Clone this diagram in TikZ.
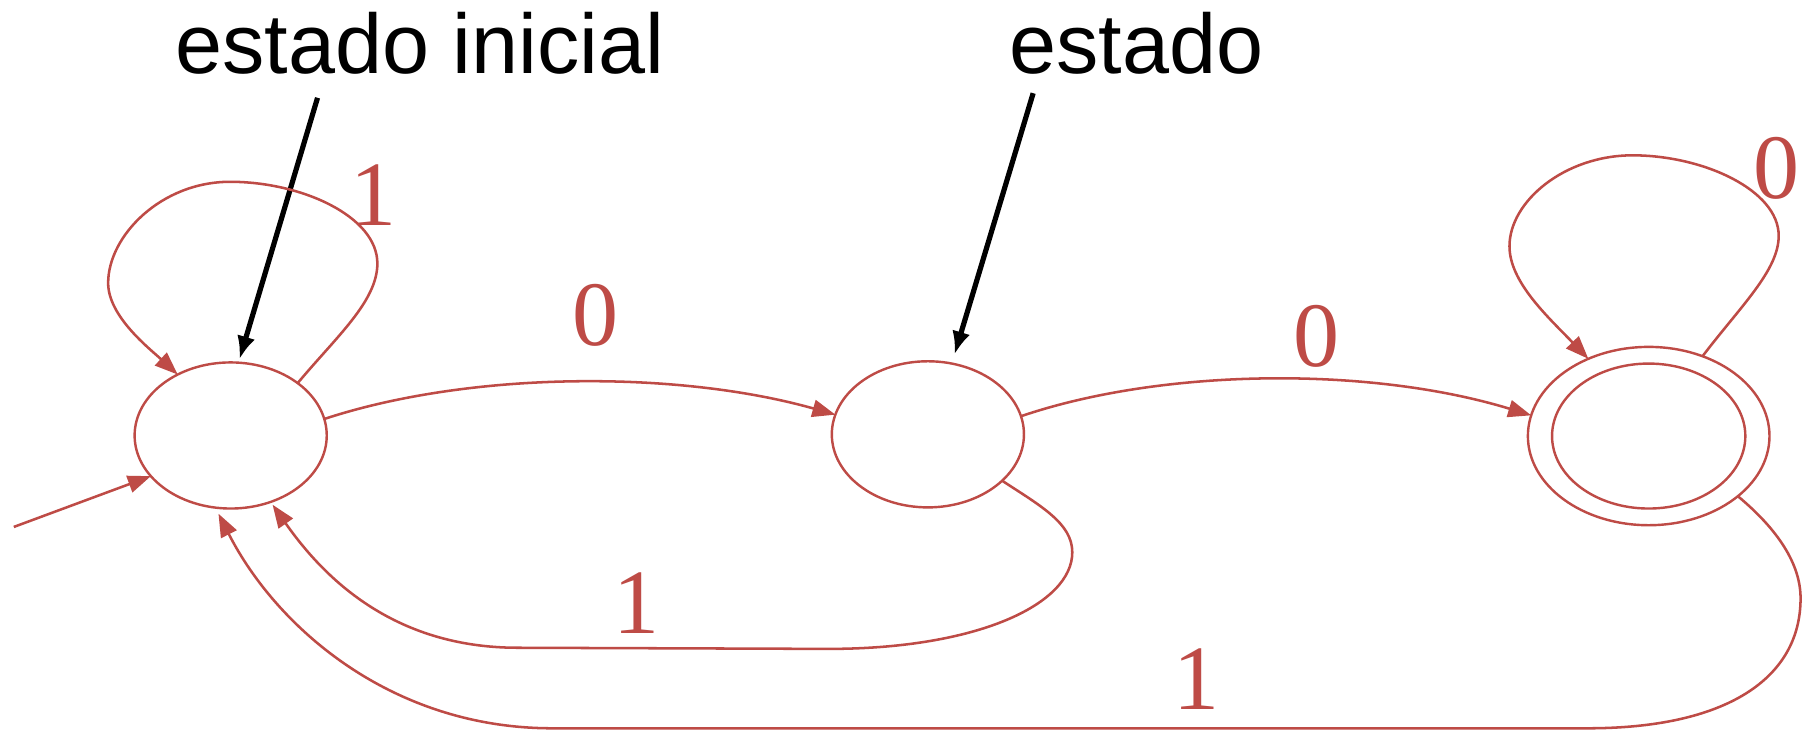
\documentclass[tikz,border=0pt]{standalone}
\usepackage{fontspec}
\setmainfont{Liberation Serif}
\newfontfamily\annfont{Liberation Sans}
\usetikzlibrary{arrows.meta,shapes.geometric}
\definecolor{fsm}{RGB}{190,75,70}
\begin{document}
\begin{tikzpicture}[x=1pt,y=-1pt,
  stnode/.style={draw=fsm, line width=2.1pt, ellipse, inner sep=0pt, outer sep=0pt, minimum width=167pt, minimum height=127pt},
  edge/.style={draw=fsm, line width=2.2pt, -{Triangle[length=20pt,width=15pt]}},
  lbl/.style={text=fsm, font=\fontsize{80}{80}\selectfont, inner sep=0pt},
  ann/.style={font=\annfont\fontsize{73.5}{80}\selectfont, inner sep=0pt, anchor=base},
  annarrow/.style={line width=4.5pt, -{Latex[length=20pt,width=16pt]}}]

\useasboundingbox[fill=white] (0,0) rectangle (1568,638);

% states
\node[stnode] (A) at (200.5,378.5) {};
\node[stnode] (B) at (806.5,377.5) {};
\node[stnode, minimum width=210pt, minimum height=155pt] (C) at (1433,379) {};
\node[stnode, minimum width=168pt, minimum height=126pt] (Cin) at (C.center) {};

% annotations
\node[ann] (ti) at (365,64) {estado inicial};
\node[ann] (te) at (987.5,64) {estado};
\draw[annarrow] ([xshift=-89pt,yshift=-21pt]ti.base) -- ([shift={(1,-3)}]A.84);
\draw[annarrow] ([xshift=-89.5pt,yshift=-17pt]te.base) -- ([shift={(2,-8)}]B.71);

% edge labels
\node[lbl] (l1) at (325,170) {1};
\node[lbl] (l2) at (518,274) {0};
\node[lbl] (l3) at (1144,292) {0};
\node[lbl] (l4) at (1544.5,146) {0};
\node[lbl] (l5) at (553,524) {1};
\node[lbl] (l6) at (1040,590) {1};

% start arrow
\coordinate (s) at (12,458);
\draw[edge] (s) -- (A.207);

% self loop on A
\draw[edge] (A.38) .. controls (292,293) and (328,262) .. (328,229)
  .. controls (328,188) and (262,158) .. (200,158)
  .. controls (140,158) and (94,205) .. (94,246)
  .. controls (94,275) and (130,303) .. (A.131);

% self loop on C
\draw[edge] (C.56) .. controls (1513,266) and (1546,235) .. (1546,205)
  .. controls (1546,165) and (1480,135) .. (1419,135)
  .. controls (1360,135) and (1312,175) .. (1312,214)
  .. controls (1312,245) and (1345,275) .. (C.128);

% A -> B, B -> C
\draw[edge] (A.10) .. controls (410,322) and (590,322) .. (B.168);
\draw[edge] (B.11) .. controls (1010,320) and (1190,318) .. (C.170);

% B -> A
\draw[edge, shorten >=3pt] (B.-32) .. controls (905,440) and (932,455) .. (932,480)
  .. controls (932,525) and (850,564) .. (720,564) -- (450,563)
  .. controls (340,563) and (280,500) .. (A.301);

% C -> A
\draw[edge, shorten >=6pt] (C.-34) .. controls (1545,460) and (1565,490) .. (1565,520)
  .. controls (1565,590) and (1500,633) .. (1380,633) -- (480,633)
  .. controls (340,633) and (240,545) .. (A.258);
\end{tikzpicture}
\end{document}
